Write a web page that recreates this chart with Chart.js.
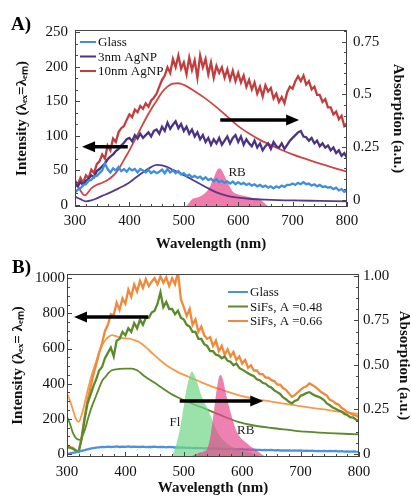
<!DOCTYPE html>
<html>
<head>
<meta charset="utf-8">
<script src="https://cdn.jsdelivr.net/npm/chart.js@4.4.0/dist/chart.umd.min.js"></script>
<style>
  body { margin: 0; background: #fff; }
  #wrapA { position: absolute; left: 0; top: 0; width: 411px; height: 258px; }
  #wrapB { position: absolute; left: 0; top: 250px; width: 411px; height: 247px; }
</style>
</head>
<body>
<div id="wrapA"><canvas id="chartA"></canvas></div>
<div id="wrapB"><canvas id="chartB"></canvas></div>
<script>
// ---------- Panel A data (emission every 5 nm from 300 to 800) ----------
var glassA = [
  18,22,24,29,30,35,36,41,42,46,
  50,60,52,47,53,50,55,49,52,48,
  53,50,52,47,52,50,47,51,46,49,
  46,48,51,46,52,47,50,46,49,44,
  46,42,44,40,42,39,41,37,40,36,
  38,34,37,33,35,32,34,31,34,30,
  33,30,32,29,31,28,30,27,29,26,
  28,25,27,24,27,25,28,26,29,29,
  31,29,32,30,33,30,31,28,30,27,
  29,26,27,25,26,23,25,21,23,19,
  21];
var agnp3A = [
  30,27,33,29,35,38,43,40,49,52,
  56,60,66,70,73,78,81,86,90,95,
  97,92,101,96,103,97,101,105,99,107,
  109,103,113,107,119,110,116,121,111,117,
  107,113,103,109,99,105,95,101,91,97,
  87,95,89,97,87,93,99,89,97,101,
  91,99,87,95,89,85,93,83,89,79,
  85,89,81,91,85,83,89,81,87,93,
  97,101,105,107,99,98,93,97,89,93,
  85,89,83,86,79,83,75,79,71,75,
  68];
var agnp10A = [
  35,29,39,32,43,39,51,46,59,63,
  73,67,86,79,96,91,105,111,114,123,
  131,127,138,134,143,139,147,142,151,155,
  161,171,181,187,199,191,211,199,216,197,
  206,189,213,195,209,184,216,199,211,189,
  206,184,201,191,199,184,196,181,194,179,
  191,177,187,171,181,167,177,161,171,157,
  173,164,169,154,161,149,156,147,163,171,
  168,179,186,179,187,174,179,167,171,159,
  159,149,153,141,141,131,135,124,129,114,
  118];

// absorption curves (right axis)
var absWl10A = [300,310,318,330,340,350,360,370,380,390,400,410,420,430,440,450,460,470,480,490,500,520,540,560,580,600,620,640,660,680,700,720,740,760,780,800];
var abs10A   = [0.095,0.045,0.022,0.055,0.072,0.082,0.095,0.115,0.145,0.19,0.235,0.285,0.335,0.385,0.43,0.47,0.51,0.537,0.551,0.553,0.545,0.515,0.48,0.44,0.395,0.35,0.315,0.285,0.26,0.237,0.216,0.198,0.181,0.165,0.149,0.134];
var absWl3A  = [300,310,320,330,340,350,360,370,380,390,400,410,420,430,440,450,460,470,480,490,500,520,540,560,580,600,620,650,700,750,800];
var abs3A    = [0.016,0.004,-0.006,-0.002,0.008,0.02,0.03,0.042,0.055,0.068,0.083,0.103,0.122,0.14,0.156,0.166,0.164,0.156,0.143,0.131,0.118,0.09,0.062,0.036,0.02,0.011,0.006,0.002,-0.002,-0.004,-0.006];
var rbWlA    = [505,515,525,535,545,550,555,560,565,570,575,580,585,590,600,610,620,630,640,655];
var rbA      = [-0.03,0.004,0.012,0.025,0.05,0.075,0.105,0.135,0.15,0.14,0.115,0.085,0.06,0.04,0.026,0.02,0.014,0.008,0.003,-0.03];

// ---------- Panel B data ----------
var glassB = [
  2,4,7,10,14,18,22,26,30,33,
  36,38,40,39,42,40,41,43,40,42,
  41,43,40,42,41,40,42,39,41,40,
  42,39,41,40,38,40,39,37,38,36,
  37,35,36,34,35,33,34,32,33,31,
  32,30,31,29,30,28,29,27,28,26,
  27,25,26,24,25,23,24,22,23,22,
  23,21,22,20,21,20,21,19,20,19,
  20,18,19,18,19,17,18,17,18,16,
  17,16,17,15,16,14,15,14,15,13,
  12];
var sifs48B = [
  38,36,30,20,13,85,195,285,335,385,
  425,475,495,545,575,605,555,645,655,695,
  675,715,695,745,715,765,735,775,775,805,
  815,855,920,835,865,825,825,795,815,775,
  765,735,725,695,695,655,655,625,615,585,
  585,565,560,545,555,530,525,505,515,490,
  480,470,460,450,442,425,420,405,400,385,
  378,362,352,342,322,312,297,288,302,308,
  332,338,347,352,342,332,327,318,307,288,
  277,265,257,248,242,228,222,210,207,195,
  190];
var sifs66B = [
  42,39,35,22,13,95,205,305,375,450,
  510,575,630,700,735,795,790,860,820,885,
  855,935,895,965,925,985,945,995,955,980,
  1000,965,1010,975,1005,955,1000,965,1035,880,
  835,785,825,735,765,695,725,675,655,665,
  615,645,585,615,565,595,555,580,535,555,
  515,535,490,505,475,475,455,455,435,435,
  420,415,395,395,375,365,345,325,335,350,
  365,378,385,402,392,382,368,352,343,332,
  308,302,288,282,263,252,238,232,222,218,
  208];

var absWl48B = [300,305,310,315,322,330,337,343,349,355,360,366,372,377,390,400,411,420,434,450,463,477,491,505,520,536,560,593,620,650,680,708,750,800];
var abs48B   = [0.21,0.17,0.12,0.09,0.079,0.13,0.21,0.27,0.32,0.37,0.41,0.434,0.458,0.47,0.478,0.48,0.48,0.47,0.434,0.4,0.37,0.34,0.316,0.295,0.275,0.255,0.222,0.18,0.16,0.146,0.135,0.125,0.117,0.11];
var absWl66B = [300,305,310,315,320,326,332,337,343,349,355,360,366,372,377,385,395,406,415,423,435,446,460,474,490,508,525,543,570,593,620,650,680,708,740,765,800];
var abs66B   = [0.34,0.3,0.25,0.2,0.18,0.23,0.31,0.378,0.45,0.51,0.57,0.61,0.64,0.66,0.668,0.66,0.65,0.648,0.64,0.63,0.6,0.566,0.525,0.49,0.46,0.434,0.41,0.385,0.355,0.33,0.31,0.294,0.278,0.264,0.25,0.238,0.226];
var flWlB    = [478,485,490,495,500,505,510,514,520,525,530,535,540,545,550,555,560,570,580,590,600,615,632];
var flB      = [-0.017,0.03,0.09,0.17,0.27,0.37,0.44,0.462,0.43,0.38,0.33,0.29,0.26,0.22,0.18,0.14,0.11,0.07,0.045,0.03,0.018,0.008,-0.017];
var rbWlB    = [510,525,535,540,545,550,555,560,563,567,572,578,585,590,596,602,608,615,625,640];
var rbB      = [-0.017,0.005,0.015,0.03,0.09,0.2,0.33,0.43,0.444,0.42,0.34,0.26,0.18,0.13,0.097,0.075,0.06,0.04,0.02,-0.017];

// wavelength grid of the emission spectra
var wl5 = [];
for (var w = 300; w <= 800; w += 5) wl5.push(w);

function pts(xs, ys) {
  return ys.map(function (v, i) { return { x: xs[i], y: v }; });
}

Chart.defaults.font.family = "'Liberation Serif', 'Times New Roman', serif";
Chart.defaults.color = '#111';

// frame, inward ticks, legend, arrows and labels
var decor = {
  id: 'decor',
  afterDraw: function (chart, args, o) {
    var ctx = chart.ctx, a = chart.chartArea;
    var sx = chart.scales.x, sy = chart.scales.y;
    ctx.save();
    ctx.strokeStyle = '#444';
    ctx.lineWidth = 1;
    ctx.strokeRect(a.left + 0.5, a.top + 0.5, a.right - a.left - 1, a.bottom - a.top - 1);

    function ticks(scale, sub, side) {
      var t = scale.ticks;
      var step = t[1].value - t[0].value;
      var minor = step / sub;
      for (var v = t[0].value - step; v <= scale.max + 1e-9; v += minor) {
        if (v < scale.min) continue;
        var k = Math.abs(((v - t[0].value) / step) - Math.round((v - t[0].value) / step)) < 1e-6;
        var len = k ? 5 : 3;
        var p = Math.round(scale.getPixelForValue(v)) + 0.5;
        ctx.beginPath();
        if (side === 'bottom') { ctx.moveTo(p, a.bottom); ctx.lineTo(p, a.bottom - len); }
        if (side === 'left') { ctx.moveTo(a.left, p); ctx.lineTo(a.left + len, p); }
        if (side === 'right') { ctx.moveTo(a.right, p); ctx.lineTo(a.right - len, p); }
        ctx.stroke();
      }
    }
    ticks(sx, o.subX, 'bottom');
    ticks(sy, o.subY, 'left');
    ticks(chart.scales.y2, o.subY2, 'right');

    // legend
    ctx.font = '13px ' + Chart.defaults.font.family;
    ctx.textBaseline = 'middle';
    ctx.textAlign = 'left';
    var items = chart.data.datasets.filter(function (d) { return d.inLegend; });
    items.forEach(function (d, i) {
      var yy = o.legend.y + i * o.legend.dy;
      ctx.strokeStyle = d.borderColor;
      ctx.lineWidth = 2;
      ctx.beginPath();
      ctx.moveTo(o.legend.x, yy);
      ctx.lineTo(o.legend.x + o.legend.len, yy);
      ctx.stroke();
      ctx.fillStyle = '#111';
      ctx.fillText(d.label, o.legend.x + o.legend.len + 2, yy + 1);
    });

    // arrows (data units)
    o.arrows.forEach(function (ar) {
      var x1 = sx.getPixelForValue(ar.x1), x2 = sx.getPixelForValue(ar.x2);
      var y1 = sy.getPixelForValue(ar.y), dir = x2 > x1 ? 1 : -1;
      ctx.strokeStyle = '#000';
      ctx.fillStyle = '#000';
      ctx.lineWidth = 3.5;
      ctx.beginPath();
      ctx.moveTo(x1, y1);
      ctx.lineTo(x2 - dir * 10, y1);
      ctx.stroke();
      ctx.beginPath();
      ctx.moveTo(x2, y1);
      ctx.lineTo(x2 - dir * 13, y1 - 5.5);
      ctx.lineTo(x2 - dir * 13, y1 + 5.5);
      ctx.closePath();
      ctx.fill();
    });

    // peak labels
    ctx.fillStyle = '#222';
    ctx.textAlign = 'center';
    o.texts.forEach(function (t) {
      ctx.fillText(t.text, sx.getPixelForValue(t.x), sy.getPixelForValue(t.y));
    });

    // panel letter
    ctx.font = 'bold 19px ' + Chart.defaults.font.family;
    ctx.textAlign = 'left';
    ctx.fillStyle = '#000';
    ctx.fillText(o.panel.text, o.panel.x, o.panel.y);
    ctx.restore();
  }
};

function axes(p) {
  var titleFont = { size: 15, weight: 'bold' };
  return {
    x: {
      type: 'linear', min: 300, max: 800,
      grid: { display: false, drawTicks: false }, border: { display: false },
      ticks: { stepSize: 100, padding: p.xPad, font: { size: 15 }, color: '#111' },
      title: { display: true, text: 'Wavelength (nm)', font: titleFont, color: '#111', padding: { top: 0, bottom: p.xTitle } },
      afterFit: function (s) { s.width = s.width; s.height = p.xH; }
    },
    y: {
      position: 'left', min: p.yMin, max: p.yMax,
      grid: { display: false, drawTicks: false }, border: { display: false },
      ticks: { stepSize: p.yStep, includeBounds: false, padding: p.yPad, font: { size: 15 }, color: '#111',
               callback: function (v) { return String(v); } },
      title: { display: true, text: p.yText, font: titleFont, color: '#111', padding: { top: p.yTitle, bottom: 0 } },
      afterFit: function (s) { s.width = p.yW; }
    },
    y2: {
      position: 'right', min: p.y2Min, max: p.y2Max,
      grid: { display: false, drawTicks: false }, border: { display: false },
      ticks: { stepSize: 0.25, includeBounds: false, padding: p.y2Pad, font: { size: 15 }, color: '#111', callback: p.y2Fmt },
      title: { display: true, text: 'Absorption (a.u.)', font: titleFont, color: '#111', padding: { top: p.y2Title, bottom: 0 } },
      afterFit: function (s) { s.width = p.y2W; }
    }
  };
}

function line(label, data, color, axis, width, legend) {
  return {
    label: label, data: data, yAxisID: axis, borderColor: color, borderWidth: width,
    pointRadius: 0, fill: false, tension: axis === 'y2' ? 0.4 : 0,
    cubicInterpolationMode: axis === 'y2' ? 'monotone' : 'default', inLegend: legend
  };
}

function area(label, data, color) {
  return {
    label: label, data: data, yAxisID: 'y2', borderWidth: 0, borderColor: color,
    backgroundColor: color, pointRadius: 0, fill: 'start', cubicInterpolationMode: 'monotone'
  };
}

// ---------- Panel A ----------
new Chart(document.getElementById('chartA'), {
  type: 'line',
  data: {
    datasets: [
      line('Glass', pts(wl5, glassA), '#3f8fd8', 'y', 2.3, true),
      line('3nm AgNP', pts(wl5, agnp3A), '#4a3384', 'y', 2.3, true),
      line('10nm AgNP', pts(wl5, agnp10A), '#c23d3d', 'y', 2.3, true),
      line('abs 10nm', pts(absWl10A, abs10A), '#cc4646', 'y2', 1.8, false),
      line('abs 3nm', pts(absWl3A, abs3A), '#563a88', 'y2', 1.8, false),
      area('RB', pts(rbWlA, rbA), 'rgba(238,90,150,0.8)')
    ]
  },
  options: {
    responsive: true, maintainAspectRatio: false, animation: false,
    layout: { padding: { top: 30, left: 0, right: 0, bottom: 0 } },
    plugins: {
      legend: { display: false }, tooltip: { enabled: false },
      decor: {
        subX: 5, subY: 3, subY2: 5,
        legend: { x: 80, y: 42, dy: 14.5, len: 16 },
        arrows: [{ x1: 397, x2: 313, y: 84 }, { x1: 567, x2: 712, y: 123 }],
        texts: [{ text: 'RB', x: 598, y: 47 }],
        panel: { text: 'A)', x: 11, y: 25 }
      }
    },
    scales: axes({
      xH: 51, xPad: 5, xTitle: 5,
      yMin: -2.9, yMax: 252.9, yStep: 50, yW: 75, yPad: 7, yTitle: 13,
      yText: 'Intensity (λₑₓ=λₑₘ)',
      y2Min: -0.033, y2Max: 0.805, y2W: 64, y2Pad: 6, y2Title: 4,
      y2Fmt: function (v) { return String(Math.round(v * 100) / 100); }
    })
  },
  plugins: [decor]
});

// ---------- Panel B ----------
new Chart(document.getElementById('chartB'), {
  type: 'line',
  data: {
    datasets: [
      area('RB', pts(rbWlB, rbB), 'rgba(228,70,140,0.68)'),
      area('Fl', pts(flWlB, flB), 'rgba(112,214,134,0.7)'),
      line('Glass', pts(wl5, glassB), '#4a92de', 'y', 2.3, true),
      line('SiFs, A =0.48', pts(wl5, sifs48B), '#5b8a2b', 'y', 2.3, true),
      line('SiFs, A =0.66', pts(wl5, sifs66B), '#f0893a', 'y', 2.3, true),
      line('abs 0.48', pts(absWl48B, abs48B), '#5b8a2b', 'y2', 1.8, false),
      line('abs 0.66', pts(absWl66B, abs66B), '#f59a4a', 'y2', 1.8, false)
    ]
  },
  options: {
    responsive: true, maintainAspectRatio: false, animation: false,
    layout: { padding: { top: 24, left: 0, right: 0, bottom: 0 } },
    plugins: {
      legend: { display: false }, tooltip: { enabled: false },
      decor: {
        subX: 5, subY: 4, subY2: 4,
        legend: { x: 228, y: 42, dy: 14.5, len: 20 },
        arrows: [{ x1: 439, x2: 312, y: 780 }, { x1: 493, x2: 636, y: 302 }],
        texts: [{ text: 'Fl', x: 485, y: 176 }, { text: 'RB', x: 606, y: 136 }],
        panel: { text: 'B)', x: 12, y: 18 }
      }
    },
    scales: axes({
      xH: 40, xPad: 6, xTitle: 0,
      yMin: -17, yMax: 1024, yStep: 200, yW: 67, yPad: 2, yTitle: 9,
      yText: 'Intensity (λₑₓ= λₑₘ)',
      y2Min: -0.017, y2Max: 1.011, y2W: 52, y2Pad: 4, y2Title: -2,
      y2Fmt: function (v) { return v === 0 ? '0' : v.toFixed(2); }
    })
  },
  plugins: [decor]
});
</script>
</body>
</html>
